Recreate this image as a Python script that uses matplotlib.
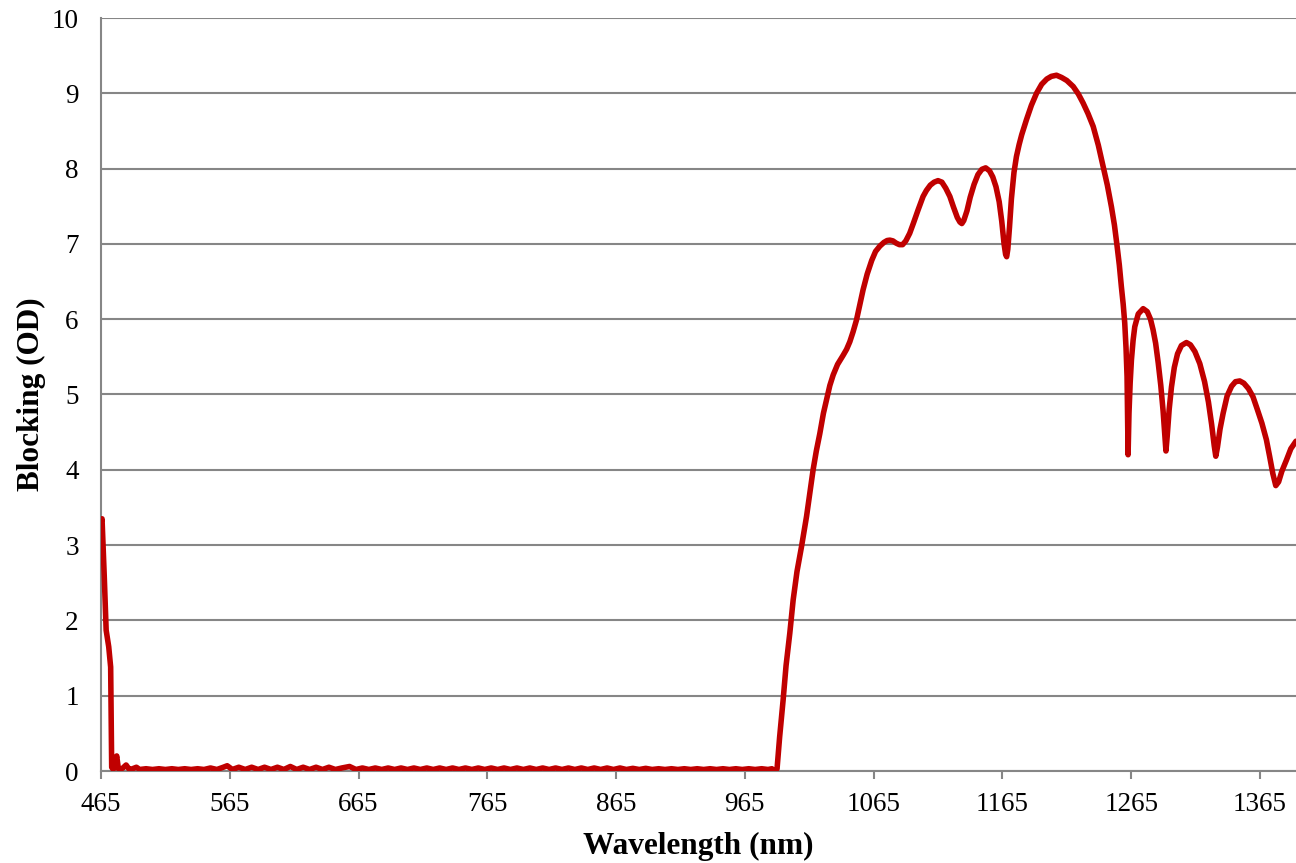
import matplotlib
matplotlib.use('Agg')
import matplotlib.pyplot as plt
import numpy as np

# blue-side cut-off edge
edge_wl = [465, 465.8, 467.5, 469, 471, 472.5, 473.3, 474.5, 476, 477.2, 478.5,
           480, 482, 484.5, 487, 489.5, 492.5]
edge_od = [3.30, 3.35, 2.60, 1.87, 1.65, 1.38, 0.05, 0.02, 0.12, 0.20, 0.03,
           0.02, 0.04, 0.08, 0.02, 0.03, 0.05]

# pass band (small ripple near zero)
pass_wl = [495, 500, 505, 510, 515, 520, 525, 530, 535, 540, 545, 550, 555, 560,
           563, 567, 572, 577, 582, 587, 592, 597, 602, 607, 612, 617, 622, 627,
           632, 637, 642, 647, 652, 658, 663, 668, 673, 678, 683, 688, 693, 698,
           703, 708, 713, 718, 723, 728, 733, 738, 743, 748, 753, 758, 763, 768,
           773, 778, 783, 788, 793, 798, 803, 808, 813, 818, 823, 828, 833, 838,
           843, 848, 853, 858, 863, 868, 873, 878, 883, 888, 893, 898, 903, 908,
           913, 918, 923, 928, 933, 938, 943, 948, 953, 958, 963, 968, 973, 978,
           983, 986]
pass_od = [0.02, 0.03, 0.02, 0.03, 0.02, 0.03, 0.02, 0.03, 0.02, 0.03, 0.02, 0.04, 0.02, 0.05,
           0.07, 0.02, 0.05, 0.02, 0.05, 0.02, 0.05, 0.02, 0.05, 0.02, 0.06, 0.02, 0.05, 0.02,
           0.05, 0.02, 0.05, 0.02, 0.04, 0.06, 0.02, 0.04, 0.02, 0.04, 0.02, 0.04, 0.02, 0.04,
           0.02, 0.04, 0.02, 0.04, 0.02, 0.04, 0.02, 0.04, 0.02, 0.04, 0.02, 0.04, 0.02, 0.04,
           0.02, 0.04, 0.02, 0.04, 0.02, 0.04, 0.02, 0.04, 0.02, 0.04, 0.02, 0.04, 0.02, 0.04,
           0.02, 0.04, 0.02, 0.04, 0.02, 0.04, 0.02, 0.035, 0.02, 0.035, 0.02, 0.03, 0.02, 0.03,
           0.02, 0.03, 0.02, 0.03, 0.02, 0.03, 0.02, 0.03, 0.02, 0.03, 0.02, 0.03, 0.02, 0.03,
           0.02, 0.03]

# red-side blocking band
block_wl = [988, 990, 992, 994.7, 997, 999.9, 1002.5, 1005.5, 1009, 1012.9, 1015.5, 1018,
            1020.5, 1023.2, 1026, 1028.4, 1031, 1033.6, 1037, 1041.3, 1044, 1046.5, 1049,
            1051.7, 1054, 1056.8, 1060, 1063.5, 1066.5, 1069.8, 1073, 1075.5, 1077.6, 1080,
            1082.5, 1085, 1087.5, 1090, 1093, 1096, 1099.5, 1103.4, 1106, 1109, 1112, 1115,
            1118, 1121, 1124.2, 1127, 1130, 1132, 1133.5, 1135, 1137.5, 1140, 1143, 1146,
            1149, 1152, 1155, 1157.5, 1160, 1162.5, 1164.5, 1166.3, 1167.5, 1168.3, 1169.2,
            1170.5, 1172, 1174, 1175.9, 1178, 1180, 1183.7, 1187.5, 1191.5, 1195.5, 1199.5,
            1203, 1207, 1211, 1215, 1220, 1224, 1227.7, 1231.5, 1235.5, 1239.5, 1243.3,
            1246.5, 1249.7, 1252, 1254, 1255.8, 1257.4, 1258.8, 1260, 1261, 1261.8, 1262.2,
            1262.6, 1263.3, 1264.2, 1265.2, 1266.5, 1267.8, 1270.5, 1274.3, 1277.5, 1280,
            1282, 1284, 1286, 1288, 1289.8, 1291, 1292, 1293, 1294.5, 1296.3, 1298.5, 1301,
            1304, 1307.9, 1311, 1314.5, 1318.3, 1322, 1325, 1327.5, 1329.5, 1330.7, 1332,
            1334, 1336.4, 1339.5, 1343, 1346, 1349.3, 1352.5, 1356, 1359.6, 1363, 1366.5,
            1370, 1372.5, 1375, 1377.3, 1379.5, 1382, 1385.6, 1389, 1393]
block_od = [0.00, 0.03, 0.45, 0.94, 1.40, 1.83, 2.27, 2.65, 2.98, 3.38, 3.70, 4.00,
            4.25, 4.48, 4.75, 4.93, 5.12, 5.26, 5.40, 5.52, 5.60, 5.70, 5.83,
            5.99, 6.17, 6.39, 6.60, 6.78, 6.90, 6.97, 7.02, 7.045, 7.05, 7.04,
            7.01, 6.99, 6.99, 7.04, 7.14, 7.28, 7.45, 7.63, 7.71, 7.78, 7.82, 7.84,
            7.82, 7.74, 7.63, 7.49, 7.35, 7.29, 7.27, 7.31, 7.44, 7.62, 7.79, 7.92,
            7.99, 8.01, 7.97, 7.89, 7.76, 7.56, 7.30, 7.00, 6.86, 6.83, 6.93,
            7.22, 7.60, 7.95, 8.16, 8.32, 8.45, 8.65, 8.84, 9.00, 9.12, 9.19,
            9.225, 9.24, 9.21, 9.17, 9.09, 8.99, 8.87, 8.73, 8.56, 8.31, 8.02,
            7.78, 7.49, 7.25, 6.98, 6.72, 6.43, 6.20, 5.95, 5.62, 5.24, 4.75,
            4.20, 4.75, 5.15, 5.46, 5.72, 5.90, 6.07, 6.14, 6.10, 6.00,
            5.86, 5.68, 5.42, 5.12, 4.78, 4.50, 4.25, 4.45, 4.80, 5.10, 5.36, 5.54,
            5.65, 5.69, 5.66, 5.57, 5.41, 5.17, 4.90, 4.60, 4.32, 4.18, 4.30,
            4.54, 4.75, 4.98, 5.11, 5.17, 5.18, 5.15, 5.08, 4.97, 4.80, 4.62,
            4.40, 4.18, 3.95, 3.79, 3.84, 3.98, 4.13, 4.28, 4.38]

xticks = [465, 565, 665, 765, 865, 965, 1065, 1165, 1265, 1365]

wl = np.array(edge_wl + pass_wl + block_wl)
od = np.array(edge_od + pass_od + block_od)

plt.rcParams['font.family'] = ['Liberation Serif', 'DejaVu Serif']

fig = plt.figure(figsize=(12.96, 8.63), dpi=100)
ax = fig.add_axes([101/1296, 92/863, 1195/1296, 753/863])

ax.plot(wl, od, color='#C00000', linewidth=4.0, solid_joinstyle='round',
        solid_capstyle='round', zorder=3)

ax.set_xlim(465, 1393)
ax.set_ylim(0, 10)
ax.set_xticks(xticks)
ax.set_yticks(range(0, 11))
ax.grid(axis='y', color='#868686', linewidth=1.5)
ax.set_axisbelow(True)

for s in ['top', 'right']:
    ax.spines[s].set_visible(False)
for s in ['left', 'bottom']:
    ax.spines[s].set_color('#868686')
    ax.spines[s].set_linewidth(1.5)

ax.tick_params(axis='x', length=6, width=1.5, color='#868686', labelsize=19.5, pad=9)
ax.tick_params(axis='y', length=0, labelsize=19.5, pad=16)

ax.set_xlabel('Wavelength (nm)', fontsize=22.5, fontweight='bold')
ax.set_ylabel('Blocking (OD)', fontsize=22.5, fontweight='bold')
ax.xaxis.set_label_coords(0.5, -0.081)
ax.yaxis.set_label_coords(-0.046, 0.5)

fig.savefig('out.png', dpi=100)
